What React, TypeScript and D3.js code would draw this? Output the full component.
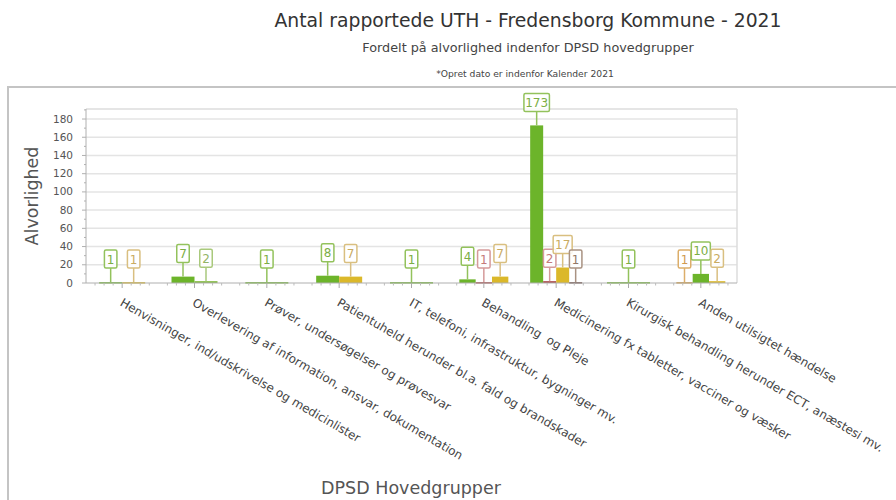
import React from "react";
import * as d3 from "d3";

const categories = [
  "Henvisninger, ind/udskrivelse og medicinlister",
  "Overlevering af information, ansvar, dokumentation",
  "Prøver, undersøgelser og prøvesvar",
  "Patientuheld herunder bl.a. fald og brandskader",
  "IT, telefoni, infrastruktur, bygninger mv.",
  "Behandling  og Pleje",
  "Medicinering fx tabletter, vacciner og væsker",
  "Kirurgisk behandling herunder ECT, anæstesi mv.",
  "Anden utilsigtet hændelse",
];

// series values per category (0 = not present)
const seriesOrange = [0, 0, 0, 0, 0, 0, 0, 0, 1];
const seriesGreen = [1, 7, 1, 8, 1, 4, 173, 1, 10];
const seriesLightGreen = [0, 2, 0, 0, 0, 0, 0, 0, 0];
const seriesRed = [0, 0, 0, 0, 0, 1, 2, 0, 0];
const seriesYellow = [1, 0, 0, 7, 0, 7, 17, 0, 2];
const seriesBrown = [0, 0, 0, 0, 0, 0, 1, 0, 0];

const yTicks = [0, 20, 40, 60, 80, 100, 120, 140, 160, 180];

const title = "Antal rapportede UTH - Fredensborg Kommune - 2021";
const subtitle = "Fordelt på alvorlighed indenfor DPSD hovedgrupper";
const note = "*Opret dato er indenfor Kalender 2021";
const yTitle = "Alvorlighed";
const xTitle = "DPSD Hovedgrupper";

const seriesList = [
  { key: "orange", values: seriesOrange, bar: "#d49a3a", border: "#dcae6a", text: "#d09a50" },
  { key: "green", values: seriesGreen, bar: "#6cb42a", border: "#93c25c", text: "#7cae44" },
  { key: "lightgreen", values: seriesLightGreen, bar: "#7fb83a", border: "#a9c97c", text: "#93b466" },
  { key: "red", values: seriesRed, bar: "#a84545", border: "#d59a9a", text: "#c47a7a" },
  { key: "yellow", values: seriesYellow, bar: "#dbb82a", border: "#d9bf80", text: "#c9ab62" },
  { key: "brown", values: seriesBrown, bar: "#6a4a40", border: "#a99282", text: "#927767" },
];

const FONT = "'DejaVu Sans', Verdana, sans-serif";

export default function App() {
  const left = 86, right = 737, top = 109, bottom = 283;
  const x = d3.scaleBand<string>().domain(categories).range([left, right]).padding(0);
  const y = d3.scaleLinear().domain([0, 191]).range([bottom, top]);
  const minor = d3.range(0, 191, 10);

  const bars: any[] = [];
  categories.forEach((c, i) => {
    const present = seriesList.filter((s) => s.values[i] > 0);
    const n = present.length;
    const gw = 40 + 3 * n;
    const cx = (x(c) as number) + x.bandwidth() / 2;
    const inner = d3.scaleBand<string>().domain(present.map((s) => s.key)).range([cx - gw / 2, cx + gw / 2]).padding(0);
    present.forEach((s) => {
      bars.push({ cat: c, s, v: s.values[i], x0: inner(s.key) as number, w: inner.bandwidth() });
    });
  });

  return (
    <svg width={896} height={500} style={{ position: "absolute", left: 0, top: 0, background: "#fff" }} fontFamily={FONT}>
      <rect x={0} y={0} width={896} height={500} fill="#fff" />
      <text x={528} y={27} textAnchor="middle" fontSize={18.8} fill="#333">{title}</text>
      <text x={528} y={52} textAnchor="middle" fontSize={12.8} fill="#444">{subtitle}</text>
      <text x={525} y={77} textAnchor="middle" fontSize={9.2} fill="#444">{note}</text>
      <rect x={8} y={87} width={900} height={430} fill="#fff" stroke="#c4c4c4" strokeWidth={2} />

      {/* grid */}
      {yTicks.slice(1).map((t) => (
        <line key={"g" + t} x1={left} x2={right} y1={y(t)} y2={y(t)} stroke="#e4e4e4" strokeWidth={1.5} />
      ))}
      <line x1={left} x2={right} y1={top} y2={top} stroke="#dcdcdc" strokeWidth={1.5} />
      <line x1={right} x2={right} y1={top} y2={bottom} stroke="#dcdcdc" strokeWidth={1.5} />
      {/* y axis */}
      <line x1={left} x2={left} y1={top} y2={bottom} stroke="#b0b0b0" strokeWidth={1} />
      {minor.map((t) => (
        <line key={"m" + t} x1={left - (t % 20 === 0 ? 4 : 2)} x2={left} y1={y(t)} y2={y(t)} stroke="#b0b0b0" />
      ))}
      {yTicks.map((t) => (
        <text key={"yt" + t} x={73} y={y(t) + 3.5} textAnchor="end" fontSize={10.5} fill="#555">{t}</text>
      ))}
      <text transform={`translate(38,196) rotate(-90)`} textAnchor="middle" fontSize={17.5} fill="#555">{yTitle}</text>

      {/* bars */}
      {bars.map((b, i) => (
        <rect key={"b" + i} x={b.x0} y={y(b.v)} width={b.w} height={Math.max(1.5, bottom - y(b.v))} fill={b.s.bar} />
      ))}

      {/* x axis */}
      <line x1={left} x2={right} y1={bottom} y2={bottom} stroke="#b0b0b0" strokeWidth={1.2} />
      {categories.map((c) => {
        const cx = (x(c) as number) + x.bandwidth() / 2;
        const bw = x.bandwidth();
        return (
          <g key={"xt" + c}>
            <line x1={cx} x2={cx} y1={bottom} y2={bottom + 5} stroke="#aaa" />
            {[-0.375, -0.25, -0.125, 0.125, 0.25, 0.375].map((f) => (
              <line key={f} x1={cx + f * bw} x2={cx + f * bw} y1={bottom} y2={bottom + 2.5} stroke="#bbb" />
            ))}
            <text transform={`translate(${cx - 3},${bottom + 22}) rotate(30)`} fontSize={11.9} fill="#444" style={{ whiteSpace: "pre" }}>{c}</text>
          </g>
        );
      })}
      <text x={411} y={494} textAnchor="middle" fontSize={17.5} fill="#555">{xTitle}</text>

      {/* value labels */}
      {bars.map((b, i) => {
        const cx = b.x0 + b.w / 2;
        const yt = y(b.v);
        const label = String(b.v);
        const bw = 6.5 * label.length + 6;
        const bh = 18;
        const by = yt - 14;
        return (
          <g key={"l" + i}>
            <line x1={cx} x2={cx} y1={by} y2={yt} stroke={b.s.border} strokeWidth={1.5} />
            <rect x={cx - bw / 2} y={by - bh} width={bw} height={bh} rx={1.5} fill="#fff" fillOpacity={0.85} stroke={b.s.border} strokeWidth={1.5} />
            <text x={cx} y={by - 4.5} textAnchor="middle" fontSize={12} fill={b.s.text}>{label}</text>
          </g>
        );
      })}
    </svg>
  );
}
